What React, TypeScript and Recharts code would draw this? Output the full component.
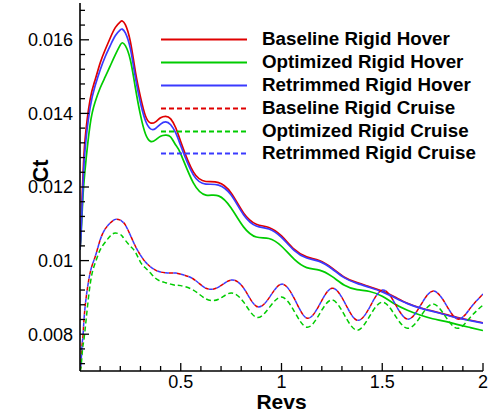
import React from 'react';
import { LineChart, Line, XAxis, YAxis, Legend, Label } from 'recharts';

// rev positions shared by every series
const revs = [
  0, 0.005, 0.01, 0.015, 0.025, 0.05, 0.075, 0.1, 0.125, 0.15, 0.175, 0.2, 0.21, 0.225, 0.25,
  0.275, 0.3, 0.325, 0.35, 0.375, 0.4, 0.425, 0.45, 0.475, 0.5,
  0.5625, 0.625, 0.6875, 0.75, 0.8125, 0.875, 0.9375, 1.0, 1.0625, 1.125, 1.1875, 1.25,
  1.3125, 1.375, 1.4375, 1.5, 1.5625, 1.625, 1.6875, 1.75, 1.8125, 1.875, 1.9375, 2.0,
];

const baselineHover = [
  0.0103, 0.0108, 0.01165, 0.01233, 0.01328, 0.01437, 0.01491, 0.01537, 0.01573, 0.01605, 0.01633, 0.01649, 0.01651, 0.01641, 0.01595,
  0.01513, 0.01445, 0.01393, 0.01374, 0.01377, 0.01388, 0.01392, 0.01385, 0.01361, 0.01323,
  0.01241, 0.01215, 0.01212, 0.01184, 0.01129, 0.01099, 0.0109, 0.01067, 0.01031, 0.0101, 0.01, 0.0098,
  0.00955, 0.0094, 0.00929, 0.00917, 0.00901, 0.00884, 0.00872, 0.00863, 0.00854, 0.00845, 0.00838, 0.00831,
];

const optimizedHover = [
  0.0103, 0.01069, 0.01124, 0.01178, 0.01246, 0.01369, 0.01431, 0.01469, 0.01499, 0.01529, 0.01559, 0.01586, 0.01592, 0.01584, 0.01545,
  0.01469, 0.01396, 0.01344, 0.01324, 0.01328, 0.01338, 0.01341, 0.01336, 0.01314, 0.0129,
  0.01211, 0.01178, 0.01176, 0.01143, 0.01091, 0.01064, 0.0106, 0.01039, 0.01004, 0.00981, 0.00974, 0.00957,
  0.00933, 0.00921, 0.00916, 0.00903, 0.00882, 0.00865, 0.00852, 0.00842, 0.00835, 0.00826, 0.00818, 0.0081,
];

const retrimmedHover = [
  0.0103, 0.0107, 0.01137, 0.01205, 0.01301, 0.01415, 0.01475, 0.01518, 0.01554, 0.01584, 0.01611, 0.01627, 0.01629, 0.01619, 0.01576,
  0.01497, 0.01429, 0.0138, 0.01358, 0.01359, 0.01371, 0.01377, 0.01369, 0.01347, 0.01312,
  0.01233, 0.01208, 0.01205, 0.01178, 0.01124, 0.01094, 0.01086, 0.01063, 0.01028, 0.01007, 0.00998, 0.00978,
  0.00953, 0.00938, 0.00927, 0.00915, 0.00899, 0.00883, 0.00871, 0.00862, 0.00853, 0.00844, 0.00837, 0.0083,
];

const baselineCruise = [
  0.00702, 0.00721, 0.0077, 0.00797, 0.00873, 0.00966, 0.0101, 0.01056, 0.01086, 0.01102, 0.01112, 0.0111, 0.01106, 0.01097, 0.01069,
  0.01039, 0.01015, 0.00996, 0.00983, 0.00974, 0.00969, 0.00967, 0.00966, 0.00966, 0.00963,
  0.0095, 0.00925, 0.00928, 0.00947, 0.00925, 0.00876, 0.00898, 0.00936, 0.00898, 0.00844, 0.00879, 0.00925,
  0.00887, 0.00838, 0.00873, 0.0092, 0.00884, 0.00841, 0.00876, 0.00917, 0.00884, 0.00841, 0.00871, 0.00909,
];

const optimizedCruise = [
  0.007, 0.0071, 0.00743, 0.0077, 0.00811, 0.00934, 0.00993, 0.01029, 0.0105, 0.01067, 0.01075, 0.01071, 0.01066, 0.01055, 0.01039,
  0.01023, 0.00996, 0.0098, 0.00966, 0.00952, 0.00944, 0.0094, 0.00936, 0.00933, 0.00932,
  0.0092, 0.00896, 0.00895, 0.00912, 0.00887, 0.00846, 0.00871, 0.00901, 0.00863, 0.00819, 0.00854, 0.00893,
  0.00852, 0.00811, 0.00849, 0.00887, 0.00852, 0.00816, 0.00846, 0.00882, 0.00849, 0.00816, 0.00846, 0.00879,
];

const retrimmedCruise = [
  0.00702, 0.00721, 0.0077, 0.00797, 0.00873, 0.00966, 0.0101, 0.01056, 0.01086, 0.01102, 0.01112, 0.0111, 0.01106, 0.01097, 0.01069,
  0.01039, 0.01015, 0.00996, 0.00983, 0.00974, 0.00969, 0.00967, 0.00966, 0.00966, 0.00963,
  0.0095, 0.00925, 0.00928, 0.00947, 0.00925, 0.00876, 0.00898, 0.00936, 0.00898, 0.00844, 0.00879, 0.00925,
  0.00887, 0.00838, 0.00873, 0.0092, 0.00884, 0.00841, 0.00876, 0.00917, 0.00884, 0.00841, 0.00871, 0.00909,
];

const majorX = [0.5, 1, 1.5, 2];
const minorX = [0.1, 0.2, 0.3, 0.4, 0.6, 0.7, 0.8, 0.9, 1.1, 1.2, 1.3, 1.4, 1.6, 1.7, 1.8, 1.9];
const majorY = [0.008, 0.01, 0.012, 0.014, 0.016];
const minorY = [
  0.0072, 0.0076, 0.0084, 0.0088, 0.0092, 0.0096, 0.0104, 0.0108, 0.0112, 0.0116,
  0.0124, 0.0128, 0.0132, 0.0136, 0.0144, 0.0148, 0.0152, 0.0156, 0.0164, 0.0168,
];

const RED = '#e00000';
const GREEN = '#00cc00';
const BLUE = '#3a3aff';
const FONT = '"Liberation Sans", Arial, Helvetica, sans-serif';

const series = [
  { key: 'bh', label: 'Baseline Rigid Hover', color: RED, dash: undefined, offset: 0 },
  { key: 'oh', label: 'Optimized Rigid Hover', color: GREEN, dash: undefined, offset: 0 },
  { key: 'rh', label: 'Retrimmed Rigid Hover', color: BLUE, dash: undefined, offset: 0 },
  { key: 'bc', label: 'Baseline Rigid Cruise', color: RED, dash: '4 4', offset: 0 },
  { key: 'oc', label: 'Optimized Rigid Cruise', color: GREEN, dash: '5 3', offset: 0 },
  { key: 'rc', label: 'Retrimmed Rigid Cruise', color: BLUE, dash: '4 4', offset: 4 },
];

const data = revs.map((rev, i) => ({
  rev,
  bh: baselineHover[i],
  oh: optimizedHover[i],
  rh: retrimmedHover[i],
  bc: baselineCruise[i],
  oc: optimizedCruise[i],
  rc: retrimmedCruise[i],
}));

const X_GAP = 4;
const Y_GAP = 7;

const XTick = ({ x, y, payload }: any) => {
  const major = majorX.includes(payload.value);
  const axisY = y - X_GAP;
  return (
    <g>
      <line x1={x} x2={x} y1={axisY} y2={axisY - (major ? 8 : 5)} stroke="#000" strokeWidth={1.3} />
      {major && (
        <text x={x} y={y} dy="0.71em" textAnchor="middle" fontSize={18} fontFamily={FONT} fill="#000">
          {payload.value}
        </text>
      )}
    </g>
  );
};

const YTick = ({ x, y, payload }: any) => {
  const major = majorY.includes(payload.value);
  const axisX = x + Y_GAP;
  return (
    <g>
      <line x1={axisX} x2={axisX + (major ? 9 : 5)} y1={y} y2={y} stroke="#000" strokeWidth={1.3} />
      {major && (
        <text x={x} y={y} dy="0.355em" textAnchor="end" fontSize={18} fontFamily={FONT} fill="#000">
          {payload.value}
        </text>
      )}
    </g>
  );
};

const LegendBox = () => (
  <div style={{ fontFamily: FONT, fontWeight: 700, fontSize: 18.8, color: '#000' }}>
    {series.map(s => (
      <div key={s.key} style={{ display: 'flex', alignItems: 'center', height: 22.9, lineHeight: '22.9px', whiteSpace: 'nowrap' }}>
        <svg width={86} height={22.9} style={{ display: 'block', flex: 'none' }}>
          <line x1={0} x2={86} y1={11.45} y2={11.45} stroke={s.color} strokeWidth={2} strokeDasharray={s.dash ? '5 3' : undefined} />
        </svg>
        <span style={{ marginLeft: 15 }}>{s.label}</span>
      </div>
    ))}
  </div>
);

export default function App() {
  return (
    <div style={{ position: 'absolute', left: 0, top: 0, width: 489, height: 414, background: '#fff' }}>
      <LineChart width={489} height={414} data={data} margin={{ top: 3, right: 6, bottom: 0, left: 0 }}>
        <XAxis
          dataKey="rev" type="number" domain={[0, 2]} allowDataOverflow
          ticks={[...minorX, ...majorX]} interval={0}
          tickSize={0} tickMargin={X_GAP} tickLine={false} height={43}
          axisLine={{ stroke: '#000', strokeWidth: 1.6 }}
          tick={(p: any) => <XTick {...p} />}
        >
          <Label
            content={({ viewBox }: any) => (
              <text x={viewBox.x + viewBox.width / 2} y={viewBox.y + 38} textAnchor="middle"
                fontSize={21} fontWeight={700} fontFamily={FONT} fill="#000">Revs</text>
            )}
          />
        </XAxis>
        <XAxis xAxisId="top" orientation="top" type="number" domain={[0, 2]} height={0}
          tick={false} tickLine={false} axisLine={{ stroke: '#000', strokeWidth: 1.6 }} />
        <YAxis
          type="number" domain={[0.007, 0.017]} allowDataOverflow
          ticks={[...minorY, ...majorY]} interval={0}
          tickSize={0} tickMargin={Y_GAP} tickLine={false} width={80}
          axisLine={{ stroke: '#000', strokeWidth: 1.6 }}
          tick={(p: any) => <YTick {...p} />}
        >
          <Label
            content={({ viewBox }: any) => {
              const cx = viewBox.x + viewBox.width - 32;
              const cy = viewBox.y + viewBox.height / 2 - 16;
              return (
                <text x={cx} y={cy} transform={`rotate(-90 ${cx} ${cy})`} textAnchor="middle"
                  fontSize={21.5} fontWeight={700} fontFamily={FONT} fill="#000">Ct</text>
              );
            }}
          />
        </YAxis>
        <YAxis yAxisId="right" orientation="right" type="number" domain={[0.007, 0.017]} width={0}
          tick={false} tickLine={false} axisLine={{ stroke: '#000', strokeWidth: 1.6 }} />
        <Legend
          layout="horizontal" verticalAlign="middle" align="center"
          wrapperStyle={{ position: 'absolute', left: 161, top: 28, width: 'auto', height: 'auto' }}
          content={() => <LegendBox />}
        />
        {series.map(s => (
          <Line
            key={s.key}
            dataKey={s.key}
            name={s.label}
            type="natural"
            stroke={s.color}
            strokeWidth={s.dash ? 1.5 : 1.7}
            strokeDasharray={s.dash}
            strokeDashoffset={s.offset}
            dot={false}
            activeDot={false}
            isAnimationActive={false}
          />
        ))}
      </LineChart>
    </div>
  );
}
